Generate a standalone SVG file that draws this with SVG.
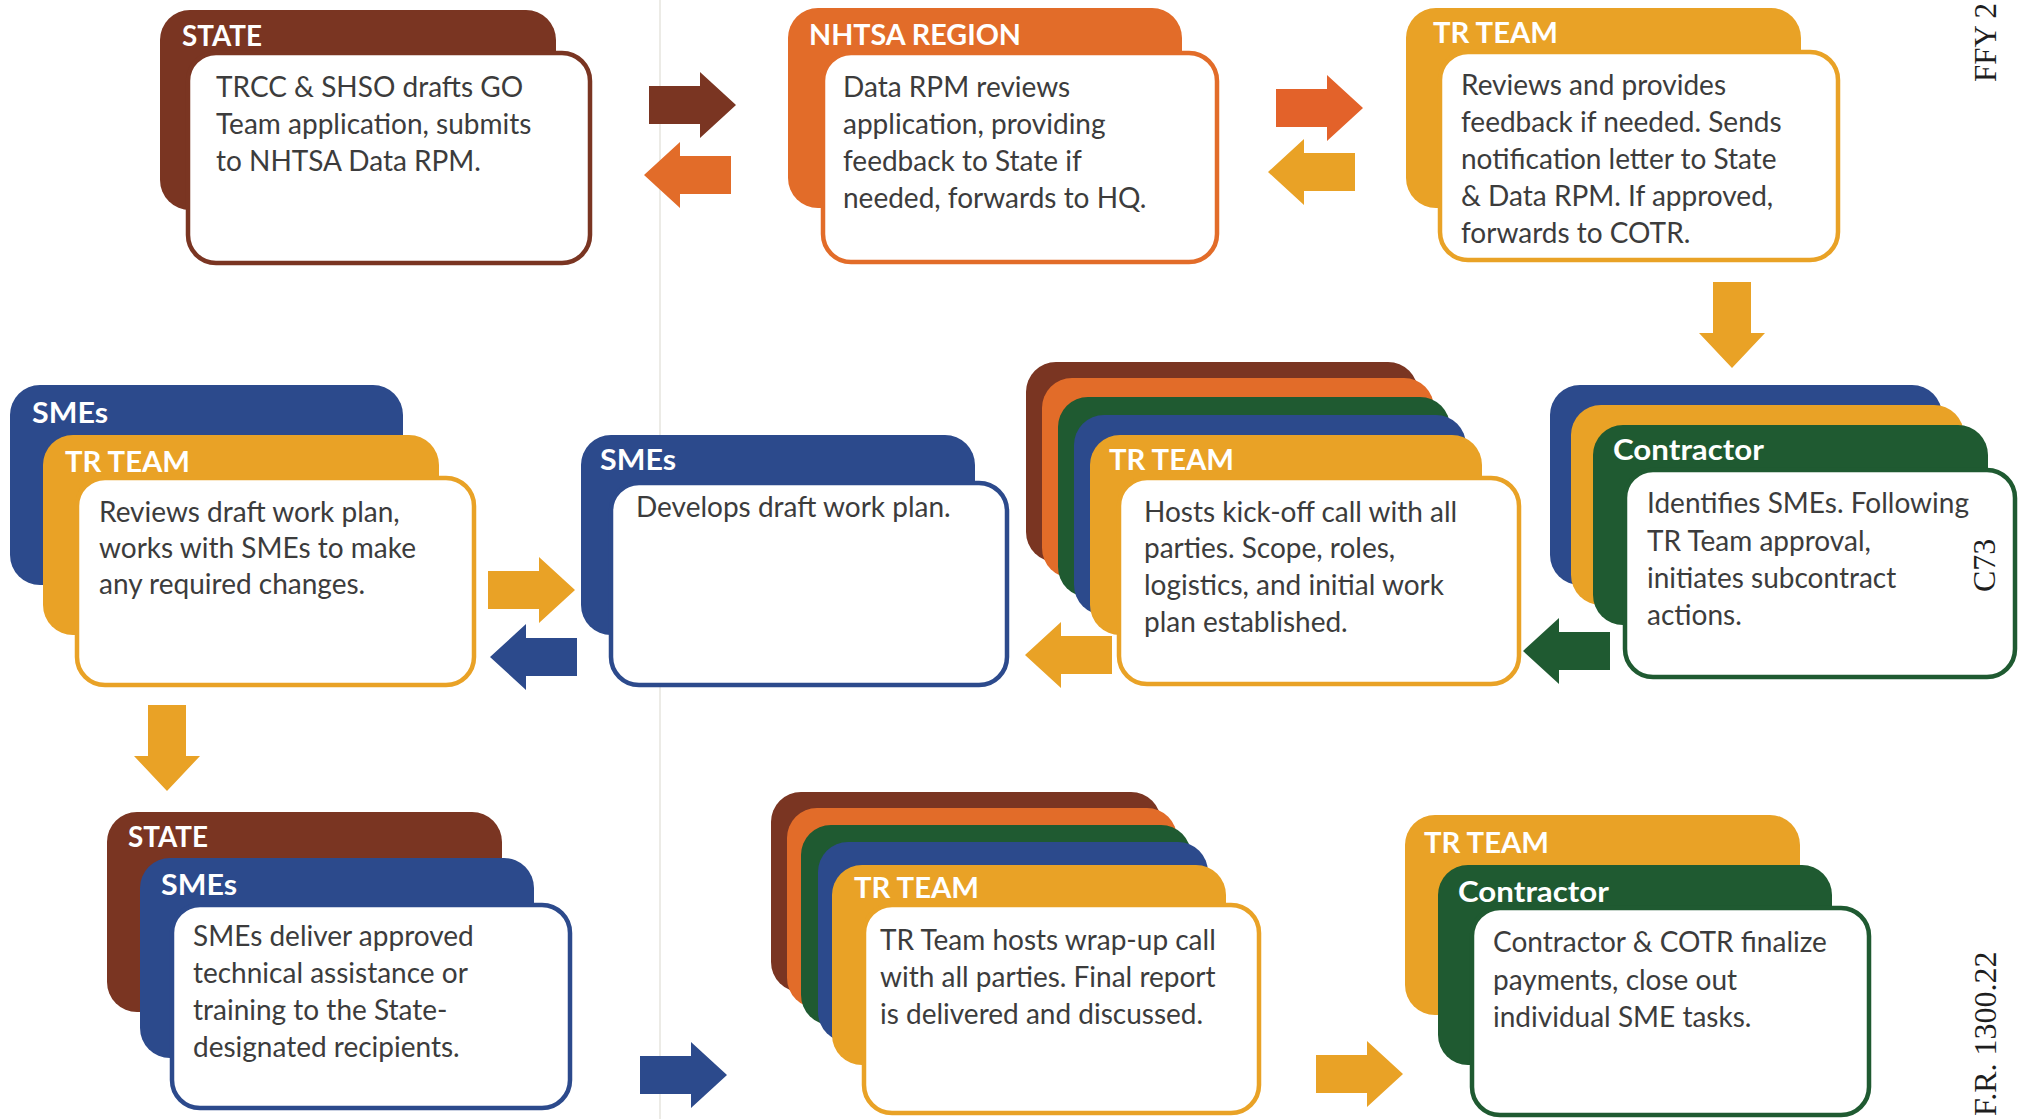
<svg xmlns="http://www.w3.org/2000/svg" xmlns:xlink="http://www.w3.org/1999/xlink" width="2019" height="1119" viewBox="0 0 2019 1119">
  <style>
    .hdr { font-family: Lato, "Open Sans", sans-serif; font-weight: bold; font-size: 28px; fill: #ffffff; }
    .body { font-family: Lato, "Open Sans", sans-serif; font-size: 28px; fill: #3c3c3c; }
    .margin { font-family: "Liberation Serif", serif; font-size: 32px; fill: #1e1e1e; }
    .card { fill: #ffffff; stroke-width: 4.5; }
    .brown { fill: #7a3522; } .s-brown { stroke: #7a3522; }
    .orange { fill: #e26c29; } .s-orange { stroke: #e26c29; }
    .amber { fill: #e9a226; } .s-amber { stroke: #e9a226; }
    .blue { fill: #2c4a8c; } .s-blue { stroke: #2c4a8c; }
    .green { fill: #1f5a31; } .s-green { stroke: #1f5a31; }
    .red-orange { fill: #e3622a; }
  </style>
  <defs>
    <!-- block arrows: origin at tail centre (right), tip (left), tail centre (down) -->
    <path id="arrR" d="M0,-19 H51 V-33 L87,0 L51,33 V19 H0 Z"/>
    <path id="arrL" d="M0,0 L36,-33 V-19 H87 V19 H36 V33 Z"/>
    <path id="arrD" d="M-19,0 H19 V51 H33 L0,86 L-33,51 H-19 Z"/>
  </defs>

  <rect width="2019" height="1119" fill="#ffffff"/>
  <!-- page fold line -->
  <line x1="660" y1="0" x2="660" y2="1119" stroke="#ecebe6" stroke-width="2"/>

  <g id="connectors">
    <use xlink:href="#arrR" class="brown" transform="translate(649,105)"/>
    <use xlink:href="#arrL" class="orange" transform="translate(644,175)"/>
    <use xlink:href="#arrR" class="red-orange" transform="translate(1276,108)"/>
    <use xlink:href="#arrL" class="amber" transform="translate(1268,172)"/>
    <use xlink:href="#arrD" class="amber" transform="translate(1732,282)"/>
    <use xlink:href="#arrL" class="green" transform="translate(1523,651)"/>
    <use xlink:href="#arrL" class="amber" transform="translate(1025,655)"/>
    <use xlink:href="#arrR" class="amber" transform="translate(488,590)"/>
    <use xlink:href="#arrL" class="blue" transform="translate(490,657)"/>
    <use xlink:href="#arrD" class="amber" transform="translate(167,705)"/>
    <use xlink:href="#arrR" class="blue" transform="translate(640,1075)"/>
    <use xlink:href="#arrR" class="amber" transform="translate(1316,1074)"/>
  </g>

  <g id="state-drafts">
    <rect class="brown" x="160" y="10" width="396" height="200" rx="30"/>
    <text class="hdr" x="182" y="46" textLength="80" lengthAdjust="spacingAndGlyphs">STATE</text>
    <rect class="card s-brown" x="188" y="53" width="402" height="210" rx="28"/>
    <text class="body"><tspan x="216" y="97">TRCC &amp; SHSO drafts GO</tspan><tspan x="216" y="134">Team application, submits</tspan><tspan x="216" y="171">to NHTSA Data RPM.</tspan></text>
  </g>

  <g id="nhtsa-region">
    <rect class="orange" x="788" y="8" width="394" height="200" rx="30"/>
    <text class="hdr" x="809" y="45" textLength="212" lengthAdjust="spacingAndGlyphs">NHTSA REGION</text>
    <rect class="card s-orange" x="823" y="53" width="394" height="209" rx="28"/>
    <text class="body"><tspan x="843" y="97">Data RPM reviews</tspan><tspan x="843" y="134">application, providing</tspan><tspan x="843" y="171">feedback to State if</tspan><tspan x="843" y="208">needed, forwards to HQ.</tspan></text>
  </g>

  <g id="tr-team-review">
    <rect class="amber" x="1406" y="8" width="395" height="200" rx="30"/>
    <text class="hdr" x="1433" y="43" textLength="125" lengthAdjust="spacingAndGlyphs">TR TEAM</text>
    <rect class="card s-amber" x="1440" y="52" width="398" height="208" rx="28"/>
    <text class="body"><tspan x="1461" y="95">Reviews and provides</tspan><tspan x="1461" y="132">feedback if needed. Sends</tspan><tspan x="1461" y="169">notification letter to State</tspan><tspan x="1461" y="206">&amp; Data RPM. If approved,</tspan><tspan x="1461" y="243">forwards to COTR.</tspan></text>
  </g>

  <g id="contractor-identifies">
    <rect class="blue" x="1550" y="385" width="392" height="200" rx="30"/>
    <rect class="amber" x="1571" y="405" width="393" height="200" rx="30"/>
    <rect class="green" x="1593" y="425" width="395" height="200" rx="30"/>
    <text class="hdr" x="1613" y="460" textLength="151" lengthAdjust="spacingAndGlyphs">Contractor</text>
    <rect class="card s-green" x="1625" y="470" width="390" height="207" rx="28"/>
    <text class="body"><tspan x="1647" y="513">Identifies SMEs. Following</tspan><tspan x="1647" y="551">TR Team approval,</tspan><tspan x="1647" y="588">initiates subcontract</tspan><tspan x="1647" y="625">actions.</tspan></text>
  </g>

  <g id="kickoff-call">
    <rect class="brown" x="1026" y="362" width="392" height="200" rx="30"/>
    <rect class="orange" x="1042" y="378" width="392" height="200" rx="30"/>
    <rect class="green" x="1058" y="397" width="392" height="200" rx="30"/>
    <rect class="blue" x="1074" y="415" width="392" height="200" rx="30"/>
    <rect class="amber" x="1090" y="435" width="392" height="200" rx="30"/>
    <text class="hdr" x="1109" y="470" textLength="125" lengthAdjust="spacingAndGlyphs">TR TEAM</text>
    <rect class="card s-amber" x="1119" y="478" width="400" height="206" rx="28"/>
    <text class="body"><tspan x="1144" y="522">Hosts kick-off call with all</tspan><tspan x="1144" y="558">parties. Scope, roles,</tspan><tspan x="1144" y="595">logistics, and initial work</tspan><tspan x="1144" y="632">plan established.</tspan></text>
  </g>

  <g id="smes-draft">
    <rect class="blue" x="581" y="435" width="394" height="200" rx="30"/>
    <text class="hdr" x="600" y="470" textLength="76" lengthAdjust="spacingAndGlyphs">SMEs</text>
    <rect class="card s-blue" x="611" y="483" width="396" height="202" rx="28"/>
    <text class="body" x="636" y="517">Develops draft work plan.</text>
  </g>

  <g id="tr-team-plan-review">
    <rect class="blue" x="10" y="385" width="393" height="200" rx="30"/>
    <text class="hdr" x="32" y="423" textLength="76" lengthAdjust="spacingAndGlyphs">SMEs</text>
    <rect class="amber" x="43" y="435" width="396" height="200" rx="30"/>
    <text class="hdr" x="65" y="472" textLength="125" lengthAdjust="spacingAndGlyphs">TR TEAM</text>
    <rect class="card s-amber" x="77" y="478" width="397" height="207" rx="28"/>
    <text class="body"><tspan x="99" y="522">Reviews draft work plan,</tspan><tspan x="99" y="558">works with SMEs to make</tspan><tspan x="99" y="594">any required changes.</tspan></text>
  </g>

  <g id="smes-deliver">
    <rect class="brown" x="107" y="812" width="395" height="200" rx="30"/>
    <text class="hdr" x="128" y="847" textLength="80" lengthAdjust="spacingAndGlyphs">STATE</text>
    <rect class="blue" x="140" y="858" width="394" height="200" rx="30"/>
    <text class="hdr" x="161" y="895" textLength="76" lengthAdjust="spacingAndGlyphs">SMEs</text>
    <rect class="card s-blue" x="172" y="905" width="398" height="203" rx="28"/>
    <text class="body"><tspan x="193" y="946">SMEs deliver approved</tspan><tspan x="193" y="983">technical assistance or</tspan><tspan x="193" y="1020">training to the State-</tspan><tspan x="193" y="1057">designated recipients.</tspan></text>
  </g>

  <g id="wrap-up-call">
    <rect class="brown" x="771" y="792" width="390" height="200" rx="30"/>
    <rect class="orange" x="787" y="808" width="390" height="200" rx="30"/>
    <rect class="green" x="801" y="825" width="390" height="200" rx="30"/>
    <rect class="blue" x="818" y="842" width="390" height="200" rx="30"/>
    <rect class="amber" x="832" y="865" width="394" height="200" rx="30"/>
    <text class="hdr" x="854" y="898" textLength="125" lengthAdjust="spacingAndGlyphs">TR TEAM</text>
    <rect class="card s-amber" x="864" y="905" width="395" height="208" rx="28"/>
    <text class="body"><tspan x="880" y="950">TR Team hosts wrap-up call</tspan><tspan x="880" y="987">with all parties. Final report</tspan><tspan x="880" y="1024">is delivered and discussed.</tspan></text>
  </g>

  <g id="closeout">
    <rect class="amber" x="1405" y="815" width="395" height="200" rx="30"/>
    <text class="hdr" x="1424" y="853" textLength="125" lengthAdjust="spacingAndGlyphs">TR TEAM</text>
    <rect class="green" x="1438" y="865" width="394" height="200" rx="30"/>
    <text class="hdr" x="1458" y="902" textLength="151" lengthAdjust="spacingAndGlyphs">Contractor</text>
    <rect class="card s-green" x="1472" y="908" width="397" height="207" rx="28"/>
    <text class="body"><tspan x="1493" y="952">Contractor &amp; COTR finalize</tspan><tspan x="1493" y="990">payments, close out</tspan><tspan x="1493" y="1027">individual SME tasks.</tspan></text>
  </g>

  <!-- margin notes, printed over the page -->
  <text class="margin" style="font-size:31px" transform="translate(1996,82) rotate(-90)">FFY 2</text>
  <text class="margin" transform="translate(1995,592) rotate(-90)">C73</text>
  <text class="margin" transform="translate(1996,1116) rotate(-90)">F.R. 1300.22</text>
</svg>
